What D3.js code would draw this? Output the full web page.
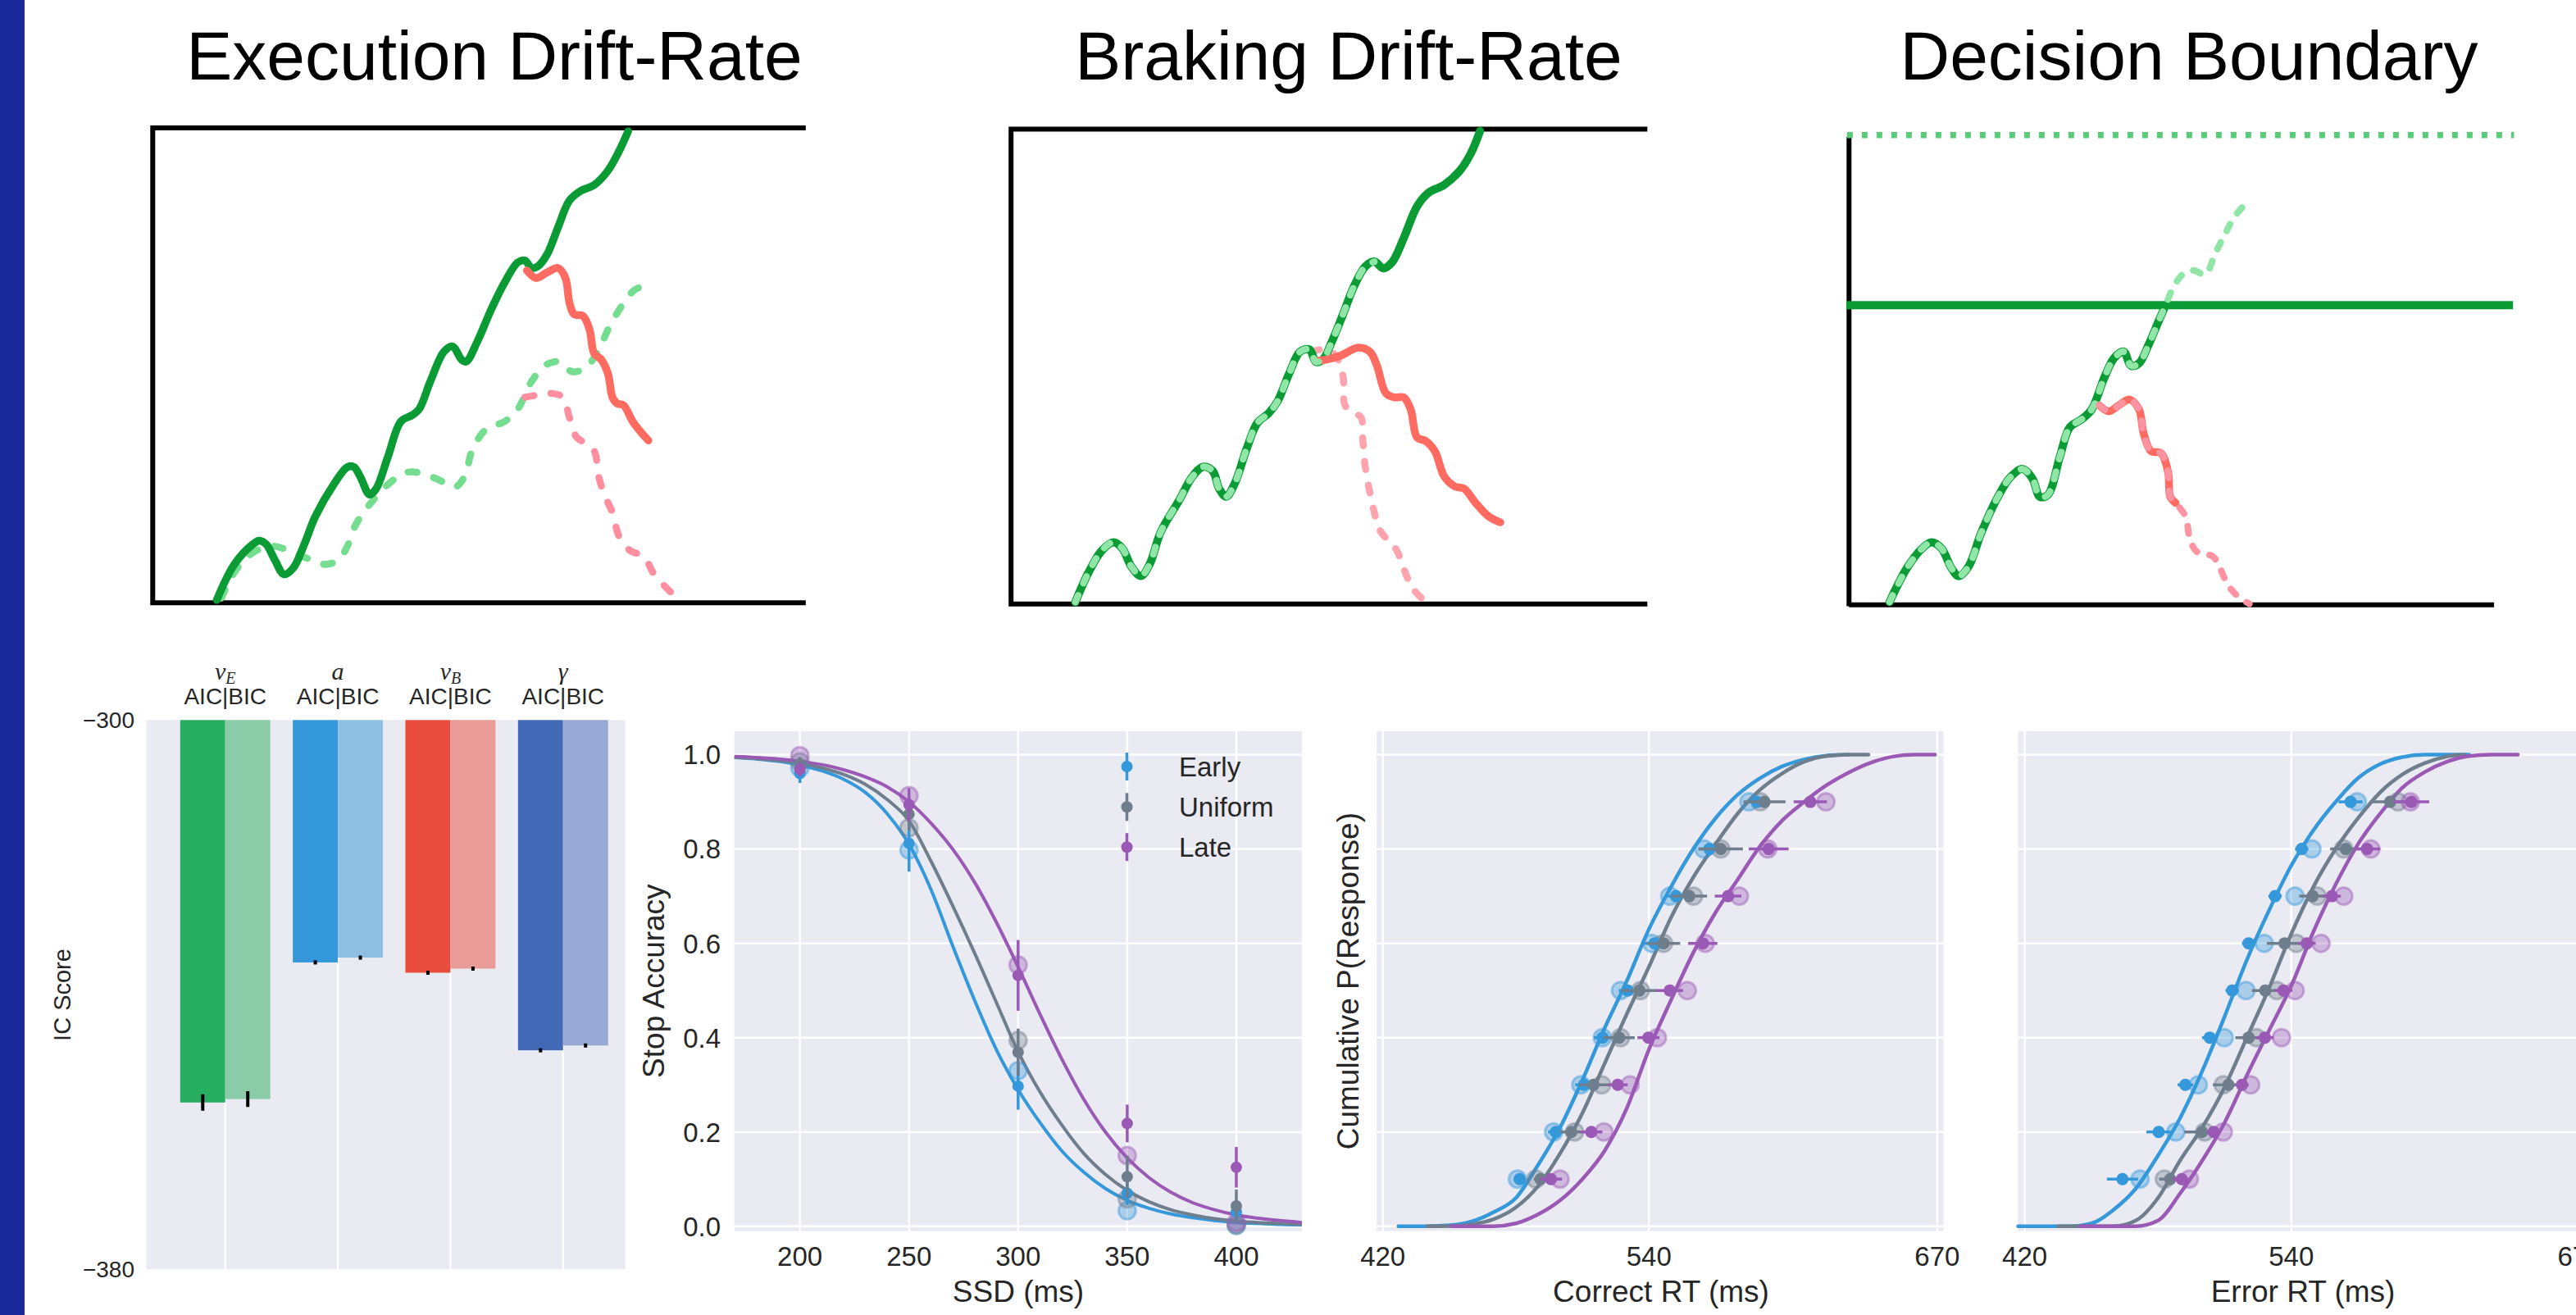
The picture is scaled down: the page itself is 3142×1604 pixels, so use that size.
<!DOCTYPE html>
<html>
<head>
<meta charset="utf-8">
<script src="https://cdn.jsdelivr.net/npm/d3@7"></script>
<style>
  body { margin: 0; background: #fff; }
  svg { display: block; }
</style>
</head>
<body>
<script>
// ---------- schematic traces (panel units: time 0-100, evidence 0-100) ----------
const execGo = [[9.8,0.6],[12.5,8.1],[15.3,12.3],[16.3,13.1],[17.4,12.3],[18.7,9.0],[20.1,6.0],[21.5,7.3],[23.2,12.3],[24.9,18.2],[27.7,24.9],[29.8,28.6],[30.8,28.6],[31.8,26.5],[33.2,22.8],[34.2,24.0],[36.0,30.7],[38.0,38.2],[39.7,39.5],[40.8,40.8],[42.5,46.6],[44.6,52.9],[45.9,54.0],[47.3,51.2],[48.0,50.8],[49.7,55.0],[51.8,61.7],[53.9,67.5],[55.9,71.7],[57.0,72.1],[58.0,70.5],[59.0,70.9],[60.4,73.4],[62.1,79.2],[63.8,84.7],[65.6,86.8],[67.6,88.0],[69.7,91.0],[71.4,95.1],[72.8,99.3]];
const execStop = [[57.3,70.0],[58.7,68.4],[60.4,69.6],[62.1,70.5],[63.2,68.4],[63.8,63.3],[64.5,60.8],[65.9,60.4],[66.9,57.5],[67.6,52.5],[68.7,51.2],[69.7,48.3],[70.4,43.3],[71.1,42.0],[72.1,41.6],[73.5,38.2],[74.9,35.7],[75.9,34.2]];
const execGoAlt = [[10.5,1.0],[12.5,6.4],[14.6,9.8],[16.7,11.5],[18.7,11.9],[20.8,11.0],[23.6,9.4],[26.3,8.1],[28.4,9.0],[29.8,11.9],[31.1,16.5],[33.2,20.7],[36.0,24.9],[38.7,27.4],[40.8,27.4],[43.5,26.1],[46.3,24.4],[47.7,26.5],[49.0,32.4],[51.1,36.6],[53.9,38.2],[55.9,40.8],[58.0,46.6],[60.1,50.0],[62.1,50.8],[64.2,48.7],[66.3,49.5],[68.3,53.3],[69.7,57.5],[71.8,62.5],[73.8,65.9],[75.9,67.1]];
const execStopAlt = [[57.0,43.3],[58.7,43.7],[61.1,44.1],[62.8,43.3],[63.8,39.1],[64.9,34.9],[66.3,33.6],[67.6,32.0],[68.3,26.5],[69.3,22.3],[70.4,19.0],[71.4,14.0],[73.1,11.0],[75.2,9.8],[76.6,6.4],[78.7,3.1],[80.7,0.6]];

const brakeGo = [[10.1,0.4],[12.2,6.7],[14.3,11.3],[16.1,13.0],[17.5,11.7],[18.9,7.9],[20.4,5.9],[21.8,8.4],[23.5,15.1],[26.4,21.8],[28.5,26.8],[30.2,28.9],[31.7,28.0],[32.7,24.3],[33.8,22.6],[35.2,25.5],[37.0,32.6],[38.7,38.1],[40.5,40.2],[41.9,42.7],[43.7,48.5],[45.4,53.1],[46.9,53.6],[47.9,51.0],[49.0,51.5],[50.4,55.2],[52.2,61.1],[53.9,66.9],[55.7,71.1],[57.1,72.1],[58.5,70.7],[59.9,72.0],[61.7,77.0],[63.8,83.7],[65.6,86.6],[68.1,88.3],[70.5,91.2],[72.3,95.0],[73.7,99.6]];
const brakeAltEnd = 57.1;
const brakeStop = [[48.2,51.2],[49.7,51.5],[51.8,52.3],[54.6,54.0],[56.4,53.1],[57.5,50.2],[58.9,44.4],[60.3,43.5],[61.7,43.5],[62.8,41.0],[63.8,35.1],[65.2,34.3],[66.6,32.2],[68.1,26.8],[69.8,24.7],[71.2,24.3],[73.0,21.3],[75.1,18.4],[76.9,17.2]];
const brakeStopAlt = [[47.2,53.1],[49.7,53.6],[51.4,51.5],[52.2,47.7],[52.5,41.8],[53.9,40.2],[55.0,39.3],[55.3,34.3],[55.7,28.5],[56.4,23.4],[57.1,19.2],[57.8,15.9],[59.2,13.4],[60.6,11.3],[61.7,7.5],[63.1,3.3],[64.9,0.8]];

const boundGo = [[6.1,0.6],[8.7,7.8],[11.0,12.0],[12.4,13.3],[13.9,12.0],[15.4,7.8],[16.5,6.1],[18.0,8.2],[19.9,15.4],[22.4,23.0],[24.3,27.2],[26.1,28.9],[27.6,26.8],[28.7,23.0],[29.9,23.4],[31.7,31.5],[33.2,37.8],[35.0,39.5],[36.5,41.6],[38.4,48.4],[39.9,52.6],[41.3,53.9],[42.4,50.9],[43.6,51.4],[45.0,55.2],[46.5,60.2],[47.6,63.8]];
const boundGoExtra = [[48.7,67.4],[50.2,70.4],[51.7,71.2],[53.6,70.4],[55.0,74.6],[56.5,78.8],[58.0,82.7],[59.9,85.8]];
const boundStop = [[37.6,42.5],[39.1,41.2],[40.6,42.5],[42.2,43.7],[43.6,41.6],[44.3,36.5],[45.4,32.7],[46.9,32.3],[48.0,28.1],[48.3,23.0],[49.1,21.7]];
const boundStopExtra = [[50.6,18.8],[51.3,13.7],[52.4,11.2],[54.7,10.3],[55.8,7.8],[56.9,4.4],[58.4,1.9],[60.2,0.2]];
const boundLower = 63.8;
const boundUpper = 100;

// ---------- IC scores ----------
const icSymbols = ["v", "a", "v", "γ"];
const icSubs = ["E", "", "B", ""];
const icAIC = [-355.7, -335.3, -336.8, -348.1];
const icBIC = [-355.2, -334.6, -336.2, -347.4];
const icAICErr = [1.2, 0.3, 0.3, 0.3];
const icBICErr = [1.15, 0.3, 0.3, 0.3];
const icTicks = [-300, -380];

// ---------- stop accuracy ----------
const conds = ["Early", "Uniform", "Late"];
const ssd = [200, 250, 300, 350, 400];
const stopEarly = [0.96, 0.812, 0.297, 0.07, 0.03];
const stopUniform = [0.98, 0.874, 0.369, 0.105, 0.043];
const stopLate = [0.969, 0.894, 0.532, 0.218, 0.125];
const stopEarlyErr = [0.02, 0.06, 0.05, 0.025, 0.02];
const stopUniformErr = [0.015, 0.035, 0.05, 0.045, 0.035];
const stopLateErr = [0.015, 0.035, 0.075, 0.04, 0.043];
const stopEarlyPred = [0.972, 0.798, 0.33, 0.033, 0.002];
const stopUniformPred = [0.985, 0.845, 0.394, 0.058, 0.002];
const stopLatePred = [0.998, 0.913, 0.554, 0.15, 0.008];
const fitSSD = [170,180,190,200,210,220,230,240,250,260,270,280,290,300,310,320,330,340,350,360,370,380,390,400,410,420,430];
const fitEarly = [0.994,0.991,0.986,0.978,0.966,0.948,0.92,0.875,0.81,0.715,0.595,0.48,0.375,0.29,0.22,0.16,0.115,0.08,0.055,0.038,0.026,0.018,0.012,0.008,0.006,0.004,0.003];
const fitUniform = [0.995,0.992,0.988,0.982,0.972,0.958,0.937,0.905,0.86,0.775,0.68,0.58,0.475,0.37,0.285,0.215,0.155,0.11,0.076,0.052,0.035,0.024,0.016,0.011,0.008,0.006,0.004];
const fitLate = [0.996,0.994,0.991,0.986,0.979,0.968,0.953,0.932,0.9,0.855,0.8,0.73,0.645,0.55,0.45,0.355,0.27,0.2,0.145,0.103,0.072,0.05,0.035,0.024,0.017,0.012,0.008];
const stopYTicks = [0, 0.2, 0.4, 0.6, 0.8, 1.0];
const stopXTicks = [200, 250, 300, 350, 400];

// ---------- RT quantiles ----------
const quantiles = [0.1, 0.2, 0.3, 0.4, 0.5, 0.6, 0.7, 0.8, 0.9];
const corrEarly = [481.7, 498, 510.7, 519.1, 530.4, 542.6, 552.2, 567.3, 588.7];
const corrEarlyPred = [480.7, 497, 509.3, 519, 527.2, 541.3, 549.4, 564.8, 585.1];
const corrEarlyErr = [2.5, 3.5, 4, 4, 4, 5, 4, 5, 5];
const corrUniform = [491.1, 505, 515, 526.6, 535.7, 546.6, 558.2, 572.4, 592.1];
const corrUniformPred = [489, 506.5, 518.7, 527.2, 536.2, 546.6, 560.1, 572.4, 590.2];
const corrUniformErr = [3, 5, 6.5, 7, 8, 7.5, 8, 10, 9.5];
const corrLate = [495.8, 514, 525.9, 539.8, 549.4, 564.3, 575.7, 594, 612.8];
const corrLatePred = [499.9, 519.7, 531.5, 543.8, 557.3, 565.4, 580.8, 593.6, 619.8];
const corrLateErr = [5, 5, 4.5, 5, 6, 6.6, 6, 9, 7.5];
const corrFitEarly = [[427,0],[440,0],[450,0.002],[460,0.01],[470,0.03],[480,0.06],[490,0.13],[500,0.21],[510,0.31],[520,0.42],[530,0.52],[540,0.63],[550,0.72],[560,0.8],[570,0.865],[580,0.915],[590,0.95],[600,0.975],[610,0.99],[620,0.998],[630,1.0]];
const corrFitUniform = [[440,0],[455,0.001],[460,0.004],[470,0.015],[480,0.04],[490,0.085],[500,0.155],[510,0.24],[520,0.345],[530,0.45],[540,0.55],[550,0.655],[560,0.74],[570,0.81],[580,0.875],[590,0.925],[600,0.96],[610,0.985],[620,0.997],[630,1.0],[639,1.0]];
const corrFitLate = [[451,0],[470,0],[480,0.006],[490,0.025],[500,0.055],[510,0.1],[520,0.16],[530,0.25],[540,0.375],[550,0.48],[560,0.58],[570,0.665],[580,0.735],[590,0.805],[600,0.86],[610,0.9],[620,0.935],[630,0.962],[640,0.983],[650,0.996],[660,1.0],[669,1.0]];

const errEarly = [464.0, 480.3, 492.3, 503.3, 513.4, 520.8, 532.7, 544.7, 566.7];
const errEarlyPred = [471.9, 488, 498.1, 509.8, 519.6, 527.8, 541.7, 549.3, 569.7];
const errEarlyErr = [7, 5.5, 3.5, 3.5, 3, 3, 3, 3, 5.4];
const errUniform = [485.5, 499.8, 511.7, 520.8, 528.3, 537, 549.6, 564.5, 584.5];
const errUniformPred = [482.9, 501, 509.4, 524.3, 533.5, 542.3, 551.7, 563.6, 588];
const errUniformErr = [5, 8, 7, 6, 6, 8, 6, 7, 9];
const errLate = [490.7, 505.1, 517.8, 528.1, 536.5, 547, 558.3, 574.1, 594.1];
const errLatePred = [494.1, 509.4, 521.7, 535.6, 541.7, 553.4, 563.6, 575.8, 593.6];
const errLateErr = [4, 3, 3, 4, 4, 4, 4, 6, 8];
const errFitEarly = [[417,0],[440,0],[450,0.006],[460,0.035],[470,0.08],[480,0.15],[490,0.23],[500,0.33],[510,0.445],[520,0.565],[530,0.67],[540,0.765],[550,0.84],[560,0.9],[570,0.95],[580,0.98],[590,0.995],[600,1.0],[620,1.0]];
const errFitUniform = [[435,0],[460,0],[470,0.012],[480,0.06],[490,0.14],[500,0.21],[510,0.295],[520,0.4],[530,0.505],[540,0.62],[550,0.72],[560,0.8],[570,0.865],[580,0.92],[590,0.958],[600,0.982],[610,0.996],[618,1.0]];
const errFitLate = [[445,0],[470,0],[480,0.012],[490,0.07],[500,0.14],[510,0.22],[520,0.32],[530,0.415],[540,0.51],[550,0.625],[560,0.725],[570,0.81],[580,0.875],[590,0.93],[600,0.963],[610,0.985],[620,0.997],[630,1.0],[642,1.0]];
const rtXTicks = [420, 540, 670];

// ---------- styles ----------
const condColors = ["#3498db", "#6f7e8d", "#9b59b6"];
const icColorAIC = ["#27ae60", "#3498db", "#e74c3c", "#4169b5"];
const icColorBIC = ["#8acba8", "#8fc0e4", "#e89b97", "#97a9d4"];
const DARK = "#0a9b35", RED = "#ff6b60";
const BG = "#eaeaf2", INK = "#262626";
const FONT = "'Liberation Sans', Arial, Helvetica, sans-serif";

const W = 3142, H = 1604;
const svg = d3.select("body").append("svg")
  .attr("width", W).attr("height", H)
  .style("font-family", FONT);

svg.append("rect").attr("width", W).attr("height", H).attr("fill", "#fff");
svg.append("rect").attr("width", 30).attr("height", H).attr("fill", "#1b2a9a");

// ---------- helpers ----------
function trace(g, x, y, pts, color, w, dash) {
  const line = d3.line().x(d => x(d[0])).y(d => y(d[1])).curve(d3.curveCatmullRom.alpha(0.5));
  g.append("path")
    .attr("d", line(pts))
    .attr("fill", "none")
    .attr("stroke", color)
    .attr("stroke-width", w)
    .attr("stroke-linecap", "round")
    .attr("stroke-linejoin", "round")
    .attr("stroke-dasharray", dash || null);
}

function straight(g, x, y, pts, color, w, dash, cap) {
  const line = d3.line().x(d => x(d[0])).y(d => y(d[1]));
  g.append("path")
    .attr("d", line(pts))
    .attr("fill", "none")
    .attr("stroke", color)
    .attr("stroke-width", w)
    .attr("stroke-linecap", cap || "butt")
    .attr("stroke-linejoin", "miter")
    .attr("stroke-dasharray", dash || null);
}

function title(txt, cx) {
  svg.append("text").attr("x", cx).attr("y", 97)
    .attr("text-anchor", "middle").attr("font-size", 84).attr("fill", "#000")
    .text(txt);
}

// ---------- top: Execution Drift-Rate ----------
{
  const x = d3.scaleLinear([0, 100], [186.3, 982.8]);
  const y = d3.scaleLinear([0, 100], [735.3, 156.1]);
  const g = svg.append("g");
  straight(g, x, y, [[100, 100], [0, 100], [0, 0], [100, 0]], "#000", 6);
  trace(g, x, y, execGoAlt, "#74dd8f", 8.5, "11 21");
  trace(g, x, y, execStopAlt, "#ff8e9e", 8.5, "11 21");
  trace(g, x, y, execGo, DARK, 9.5);
  trace(g, x, y, execStop, RED, 9.5);
  title("Execution Drift-Rate", 603);
}

// ---------- top: Braking Drift-Rate ----------
{
  const x = d3.scaleLinear([0, 100], [1233.2, 2009.3]);
  const y = d3.scaleLinear([0, 100], [736.7, 157.5]);
  const g = svg.append("g");
  straight(g, x, y, [[100, 100], [0, 100], [0, 0], [100, 0]], "#000", 6);
  trace(g, x, y, brakeStopAlt, "#ffa3ae", 8.5, "10 19");
  trace(g, x, y, brakeGo, DARK, 10);
  trace(g, x, y, brakeStop, RED, 9.5);
  trace(g, x, y, brakeGo.filter(d => d[0] <= brakeAltEnd), "#8fe6a6", 8, "9 16");
  title("Braking Drift-Rate", 1645);
}

// ---------- top: Decision Boundary ----------
{
  const x = d3.scaleLinear([0, 100], [2255.3, 3066.4]);
  const y = d3.scaleLinear([0, 100], [737.7, 164.8]);
  const g = svg.append("g");
  straight(g, x, y, [[0, 99.6], [0, -0.3]], "#000", 6);
  straight(g, x, y, [[0, 0], [97, 0]], "#000", 6);
  straight(g, x, y, [[-0.3, boundUpper], [100, boundUpper]], "#58cc78", 7.5, "7 11");
  straight(g, x, y, [[-0.4, boundLower], [99.85, boundLower]], DARK, 10);
  trace(g, x, y, boundGo, DARK, 10);
  trace(g, x, y, boundStop, RED, 9.5);
  trace(g, x, y, boundGo.concat(boundGoExtra), "#8fe6a6", 8, "9 16");
  trace(g, x, y, boundStop.concat(boundStopExtra), "#ff93a2", 8, "9 16");
  title("Decision Boundary", 2670);
}

// ---------- bottom 1: IC scores ----------
{
  const x = d3.scaleLinear([-0.7, 3.553], [178.6, 762.7]);
  const y = d3.scaleLinear([-300, -380], [878.3, 1548.3]);
  const g = svg.append("g");
  g.append("rect")
    .attr("x", x(-0.7)).attr("y", y(-300))
    .attr("width", x(3.553) - x(-0.7)).attr("height", y(-380) - y(-300))
    .attr("fill", BG);
  g.selectAll(".vgrid").data(icSymbols).enter().append("line")
    .attr("x1", (d, i) => x(i)).attr("x2", (d, i) => x(i))
    .attr("y1", y(-300)).attr("y2", y(-380))
    .attr("stroke", "#fff").attr("stroke-width", 2.5);

  const bw = 0.4;
  g.selectAll(".aic").data(icAIC).enter().append("rect")
    .attr("x", (d, i) => x(i - bw)).attr("width", x(bw) - x(0))
    .attr("y", y(-300)).attr("height", d => y(d) - y(-300))
    .attr("fill", (d, i) => icColorAIC[i]);
  g.selectAll(".bic").data(icBIC).enter().append("rect")
    .attr("x", (d, i) => x(i)).attr("width", x(bw) - x(0))
    .attr("y", y(-300)).attr("height", d => y(d) - y(-300))
    .attr("fill", (d, i) => icColorBIC[i]);

  g.selectAll(".aicErr").data(icAIC).enter().append("line")
    .attr("x1", (d, i) => x(i - bw / 2)).attr("x2", (d, i) => x(i - bw / 2))
    .attr("y1", (d, i) => y(d - icAICErr[i])).attr("y2", (d, i) => y(d + icAICErr[i]))
    .attr("stroke", "#000").attr("stroke-width", 4);
  g.selectAll(".bicErr").data(icBIC).enter().append("line")
    .attr("x1", (d, i) => x(i + bw / 2)).attr("x2", (d, i) => x(i + bw / 2))
    .attr("y1", (d, i) => y(d - icBICErr[i])).attr("y2", (d, i) => y(d + icBICErr[i]))
    .attr("stroke", "#000").attr("stroke-width", 4);

  g.selectAll(".ytick").data(icTicks).enter().append("text")
    .attr("x", 164).attr("y", d => y(d)).attr("dy", "0.36em")
    .attr("text-anchor", "end").attr("font-size", 28).attr("fill", INK)
    .text(d => d3.format("d")(d).replace("-", "−"));

  g.selectAll(".aicbic").data(icSymbols).enter().append("text")
    .attr("x", (d, i) => x(i)).attr("y", 859)
    .attr("text-anchor", "middle").attr("font-size", 28).attr("fill", INK)
    .text("AIC|BIC");

  const sym = g.selectAll(".sym").data(icSymbols).enter().append("text")
    .attr("x", (d, i) => x(i)).attr("y", 829)
    .attr("text-anchor", "middle")
    .attr("font-family", "'Liberation Serif', 'DejaVu Serif', serif")
    .attr("font-style", "italic").attr("fill", INK);
  sym.append("tspan").attr("font-size", 30).text(d => d);
  sym.append("tspan").attr("font-size", 20).attr("dy", 5).text((d, i) => icSubs[i]);

  g.append("text")
    .attr("transform", "translate(86,1213.5) rotate(-90)")
    .attr("text-anchor", "middle").attr("font-size", 29).attr("fill", INK)
    .text("IC Score");
}

// ---------- shared pieces for bottom panels ----------
const yP = d3.scaleLinear([-0.01, 1.05], [1501.5, 891.8]);

function panelBg(g, x, xTicks) {
  const [x0, x1] = x.range();
  g.append("rect").attr("x", x0).attr("y", yP(1.05))
    .attr("width", x1 - x0).attr("height", yP(-0.01) - yP(1.05)).attr("fill", BG);
  g.selectAll(".hg").data(stopYTicks).enter().append("line")
    .attr("x1", x0).attr("x2", x1).attr("y1", d => yP(d)).attr("y2", d => yP(d))
    .attr("stroke", "#fff").attr("stroke-width", 2.5);
  g.selectAll(".vg").data(xTicks).enter().append("line")
    .attr("x1", d => x(d)).attr("x2", d => x(d)).attr("y1", yP(1.05)).attr("y2", yP(-0.01))
    .attr("stroke", "#fff").attr("stroke-width", 2.5);
  g.selectAll(".xt").data(xTicks).enter().append("text")
    .attr("x", d => x(d)).attr("y", 1543.5)
    .attr("text-anchor", "middle").attr("font-size", 33).attr("fill", INK)
    .text(d => d);
}

function xLabel(g, txt, cx) {
  g.append("text").attr("x", cx).attr("y", 1588)
    .attr("text-anchor", "middle").attr("font-size", 37).attr("fill", INK).text(txt);
}

function yLabel(g, txt, bx) {
  g.append("text")
    .attr("transform", `translate(${bx},${yP(0.52)}) rotate(-90)`)
    .attr("text-anchor", "middle").attr("font-size", 37).attr("fill", INK).text(txt);
}

function predCircles(g, cx, cy, color) {
  g.append("circle").attr("cx", cx).attr("cy", cy).attr("r", 10.5)
    .attr("fill", color).attr("fill-opacity", 0.35)
    .attr("stroke", color).attr("stroke-opacity", 0.45).attr("stroke-width", 3);
}

// ---------- bottom 2: stop accuracy ----------
{
  const x = d3.scaleLinear([170, 430], [895.8, 1587.8]);
  const g = svg.append("g");
  panelBg(g, x, stopXTicks);
  g.selectAll(".yt").data(stopYTicks).enter().append("text")
    .attr("x", 879).attr("y", d => yP(d)).attr("dy", "0.36em")
    .attr("text-anchor", "end").attr("font-size", 33).attr("fill", INK)
    .text(d => d3.format(".1f")(d));

  const fits = [fitEarly, fitUniform, fitLate];
  const obs = [stopEarly, stopUniform, stopLate];
  const errs = [stopEarlyErr, stopUniformErr, stopLateErr];
  const preds = [stopEarlyPred, stopUniformPred, stopLatePred];
  const line = d3.line().x((d, i) => x(fitSSD[i])).y(d => yP(d)).curve(d3.curveMonotoneX);

  fits.forEach((f, c) => {
    g.append("path").attr("d", line(f)).attr("fill", "none")
      .attr("stroke", condColors[c]).attr("stroke-width", 4);
  });
  preds.forEach((p, c) => p.forEach((v, i) => predCircles(g, x(ssd[i]), yP(v), condColors[c])));
  obs.forEach((o, c) => {
    g.selectAll(null).data(o).enter().append("line")
      .attr("x1", (d, i) => x(ssd[i])).attr("x2", (d, i) => x(ssd[i]))
      .attr("y1", (d, i) => yP(d - errs[c][i])).attr("y2", (d, i) => yP(d + errs[c][i]))
      .attr("stroke", condColors[c]).attr("stroke-width", 3.5);
    g.selectAll(null).data(o).enter().append("circle")
      .attr("cx", (d, i) => x(ssd[i])).attr("cy", d => yP(d)).attr("r", 7)
      .attr("fill", condColors[c]);
  });

  // legend
  const ly = [935, 984.3, 1033.2];
  conds.forEach((name, c) => {
    g.append("line").attr("x1", 1374.5).attr("x2", 1374.5)
      .attr("y1", ly[c] - 17).attr("y2", ly[c] + 17)
      .attr("stroke", condColors[c]).attr("stroke-width", 3.5);
    g.append("circle").attr("cx", 1374.5).attr("cy", ly[c]).attr("r", 7).attr("fill", condColors[c]);
    g.append("text").attr("x", 1438).attr("y", ly[c]).attr("dy", "0.36em")
      .attr("font-size", 33).attr("fill", INK).text(name);
  });

  xLabel(g, "SSD (ms)", 1242);
  yLabel(g, "Stop Accuracy", 810);
}

// ---------- RT quantile panels ----------
function rtPanel(x, fits, obs, preds, errs, label, labelX, ylab) {
  const g = svg.append("g");
  panelBg(g, x, rtXTicks);
  const line = d3.line().x(d => x(d[0])).y(d => yP(d[1])).curve(d3.curveMonotoneX);
  fits.forEach((f, c) => {
    g.append("path").attr("d", line(f)).attr("fill", "none")
      .attr("stroke", condColors[c]).attr("stroke-width", 4.5).attr("stroke-linecap", "round");
  });
  preds.forEach((p, c) => p.forEach((v, i) => predCircles(g, x(v), yP(quantiles[i]), condColors[c])));
  obs.forEach((o, c) => {
    g.selectAll(null).data(o).enter().append("line")
      .attr("x1", (d, i) => x(d - errs[c][i])).attr("x2", (d, i) => x(d + errs[c][i]))
      .attr("y1", (d, i) => yP(quantiles[i])).attr("y2", (d, i) => yP(quantiles[i]))
      .attr("stroke", condColors[c]).attr("stroke-width", 3.5);
    g.selectAll(null).data(o).enter().append("circle")
      .attr("cx", d => x(d)).attr("cy", (d, i) => yP(quantiles[i])).attr("r", 7.5)
      .attr("fill", condColors[c]);
  });
  xLabel(g, label, labelX);
  if (ylab) yLabel(g, ylab, 1657);
}

rtPanel(d3.scaleLinear([417.2, 672.8], [1679.1, 2370.4]),
  [corrFitEarly, corrFitUniform, corrFitLate],
  [corrEarly, corrUniform, corrLate],
  [corrEarlyPred, corrUniformPred, corrLatePred],
  [corrEarlyErr, corrUniformErr, corrLateErr],
  "Correct RT (ms)", 2026, "Cumulative P(Response)");

rtPanel(d3.scaleLinear([417, 672.8], [2461.5, 3154.5]),
  [errFitEarly, errFitUniform, errFitLate],
  [errEarly, errUniform, errLate],
  [errEarlyPred, errUniformPred, errLatePred],
  [errEarlyErr, errUniformErr, errLateErr],
  "Error RT (ms)", 2809, null);
</script>
</body>
</html>
